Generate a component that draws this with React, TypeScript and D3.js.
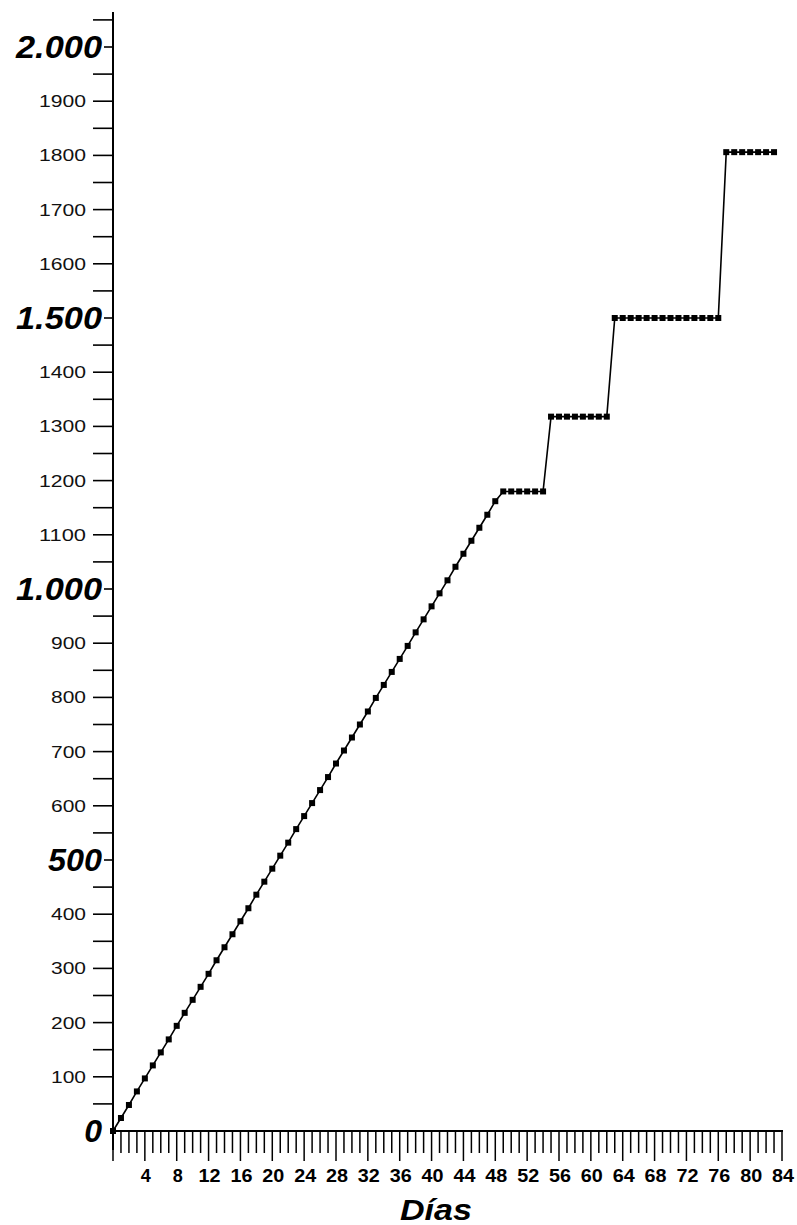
import React from "react";
import * as d3 from "d3";

const days: number[] = [
  0, 1, 2, 3, 4, 5, 6, 7, 8, 9, 10, 11, 12, 13, 14, 15, 16, 17, 18, 19, 20,
  21, 22, 23, 24, 25, 26, 27, 28, 29, 30, 31, 32, 33, 34, 35, 36, 37, 38, 39,
  40, 41, 42, 43, 44, 45, 46, 47, 48, 49, 50, 51, 52, 53, 54, 55, 56, 57, 58,
  59, 60, 61, 62, 63, 64, 65, 66, 67, 68, 69, 70, 71, 72, 73, 74, 75, 76, 77,
  78, 79, 80, 81, 82, 83,
];
const values: number[] = [
  0, 24, 48, 73, 97, 121, 145, 169, 194, 218, 242, 266, 290, 315, 339, 363,
  387, 411, 436, 460, 484, 508, 532, 557, 581, 605, 629, 653, 678, 702, 726,
  750, 774, 799, 823, 847, 871, 895, 920, 944, 968, 992, 1016, 1041, 1065,
  1089, 1113, 1137, 1162,
  1180, 1180, 1180, 1180, 1180, 1180,
  1318, 1318, 1318, 1318, 1318, 1318, 1318, 1318,
  1500, 1500, 1500, 1500, 1500, 1500, 1500, 1500, 1500, 1500, 1500, 1500, 1500, 1500,
  1806, 1806, 1806, 1806, 1806, 1806, 1806,
];

const yPlainLabels: number[] = [
  100, 200, 300, 400, 600, 700, 800, 900, 1100, 1200, 1300, 1400, 1600, 1700,
  1800, 1900,
];
const yBoldValues: number[] = [0, 500, 1000, 1500, 2000];
const yBoldTexts: string[] = ["0", "500", "1.000", "1.500", "2.000"];
const xLabelValues: number[] = [
  4, 8, 12, 16, 20, 24, 28, 32, 36, 40, 44, 48, 52, 56, 60, 64, 68, 72, 76, 80, 84,
];
const xTitle = "Días";

const FONT = "'Liberation Sans', Arial, Helvetica, sans-serif";

export default function App() {
  const W = 797;
  const H = 1225;
  const x = d3.scaleLinear().domain([0, 84]).range([113, 782]);
  const y = d3.scaleLinear().domain([0, 2000]).range([1131, 47]);
  const axisX = x(0);
  const axisY = y(0);

  const line = d3
    .line<number>()
    .x((_, i) => x(days[i]))
    .y((d) => y(d));

  const minorY = d3.range(50, 2051, 100);
  const xTicks = d3.range(0, 85, 1);

  const boldLen = (t: string) => (t.length === 5 ? 86 : t.length === 3 ? 54 : 0);

  return (
    <svg
      width={W}
      height={H}
      style={{ position: "absolute", left: 0, top: 0, background: "#fff" }}
    >
      <rect x={0} y={0} width={W} height={H} fill="#fff" />
      {/* y axis */}
      <line x1={axisX} x2={axisX} y1={12} y2={1150} stroke="#000" strokeWidth={2} />
      {minorY.map((v) => (
        <line key={"m" + v} x1={93} x2={axisX} y1={y(v)} y2={y(v)} stroke="#000" strokeWidth={1.6} />
      ))}
      {yPlainLabels.map((v) => (
        <g key={"p" + v}>
          <line x1={93} x2={axisX} y1={y(v)} y2={y(v)} stroke="#000" strokeWidth={1.6} />
          <text
            x={86}
            y={y(v) + 6}
            textAnchor="end"
            fontFamily={FONT}
            fontSize={16}
            textLength={String(v).length === 4 ? 47 : 35}
            lengthAdjust="spacingAndGlyphs"
            fill="#111"
          >
            {v}
          </text>
        </g>
      ))}
      {yBoldValues.map((v, i) => {
        const t = yBoldTexts[i];
        const len = boldLen(t);
        return (
          <g key={"b" + v}>
            {v !== 0 && (
              <line x1={104} x2={axisX} y1={y(v)} y2={y(v)} stroke="#000" strokeWidth={1.6} />
            )}
            <text
              x={102}
              y={y(v) + 11}
              textAnchor="end"
              fontFamily={FONT}
              fontSize={32}
              fontWeight="bold"
              fontStyle="italic"
              fill="#000"
              {...(len ? { textLength: len, lengthAdjust: "spacingAndGlyphs" } : {})}
            >
              {t}
            </text>
          </g>
        );
      })}
      {/* x axis */}
      <line x1={axisX} x2={783} y1={axisY} y2={axisY} stroke="#000" strokeWidth={2} />
      {xTicks.map((d) => (
        <line
          key={"t" + d}
          x1={x(d)}
          x2={x(d)}
          y1={axisY}
          y2={axisY + (d % 4 === 0 ? 30 : 22)}
          stroke="#000"
          strokeWidth={1.5}
        />
      ))}
      {xLabelValues.map((d) => (
        <text
          key={"xl" + d}
          x={x(d) + 1}
          y={1182}
          textAnchor="middle"
          fontFamily={FONT}
          fontSize={18}
          fontWeight="bold"
          fill="#000"
          {...(d >= 10 ? { textLength: 22, lengthAdjust: "spacingAndGlyphs" } : {})}
        >
          {d}
        </text>
      ))}
      <text
        x={436}
        y={1220}
        textAnchor="middle"
        fontFamily={FONT}
        fontSize={30}
        fontWeight="bold"
        fontStyle="italic"
        textLength={72}
        lengthAdjust="spacingAndGlyphs"
        fill="#000"
      >
        {xTitle}
      </text>
      {/* data */}
      <path d={line(values) || ""} fill="none" stroke="#000" strokeWidth={1.6} />
      {values.map((v, i) => (
        <rect
          key={"pt" + i}
          x={x(days[i]) - 3}
          y={y(v) - 3}
          width={6}
          height={6}
          fill="#000"
        />
      ))}
    </svg>
  );
}
